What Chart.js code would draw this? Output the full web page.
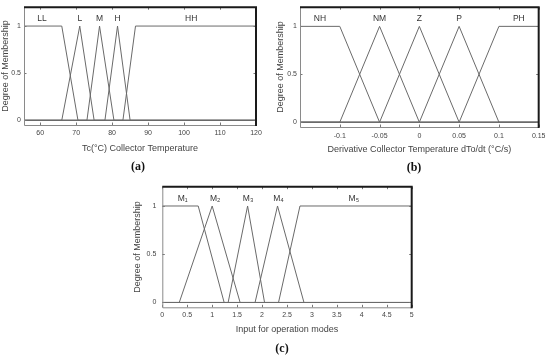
<!DOCTYPE html>
<html><head><meta charset="utf-8">
<script src="https://cdn.jsdelivr.net/npm/chart.js@4.4.0/dist/chart.umd.min.js"></script>
<style>
html,body{margin:0;padding:0;background:#fff}
body{width:550px;height:356px;overflow:hidden;position:relative}
canvas{position:absolute}
.cap{position:absolute;font-family:"Liberation Serif","Times New Roman",serif;font-weight:bold;font-size:12px;color:#111;transform:translate(-50%,-50%);white-space:nowrap}
</style></head><body>
<canvas id="ca" width="270" height="160" style="left:0px;top:0px"></canvas>
<canvas id="cb" width="275" height="160" style="left:275px;top:0px"></canvas>
<canvas id="cc" width="290" height="165" style="left:130px;top:176px"></canvas>
<div class="cap" style="left:138px;top:166px">(a)</div>
<div class="cap" style="left:414px;top:167px">(b)</div>
<div class="cap" style="left:282px;top:348px">(c)</div>
<script>
// ---------- data: panel (a) collector temperature ----------
const tcNames = ['LL','L','M','H','HH'];
const tcLL = [[55.5,1],[66,1],[70.5,0],[120,0]];
const tcL  = [[55.5,0],[66,0],[71,1],[75,0],[120,0]];
const tcM  = [[55.5,0],[73,0],[76.5,1],[80.5,0],[120,0]];
const tcH  = [[55.5,0],[78,0],[81.5,1],[85,0],[120,0]];
const tcHH = [[55.5,0],[83,0],[86.5,1],[120,1]];
const tcLabelX = [60.5,71,76.5,81.5,102];
const tcTicks = [60,70,80,90,100,110,120];

// ---------- data: panel (b) derivative ----------
const dNames = ['NH','NM','Z','P','PH'];
const dNH = [[-0.15,1],[-0.1,1],[-0.05,0],[0.15,0]];
const dNM = [[-0.15,0],[-0.1,0],[-0.05,1],[0,0],[0.15,0]];
const dZ  = [[-0.15,0],[-0.05,0],[0,1],[0.05,0],[0.15,0]];
const dP  = [[-0.15,0],[0,0],[0.05,1],[0.1,0],[0.15,0]];
const dPH = [[-0.15,0],[0.05,0],[0.1,1],[0.15,1]];
const dLabelX = [-0.125,-0.05,0,0.05,0.125];
const dTicks = [-0.1,-0.05,0,0.05,0.1,0.15];

// ---------- data: panel (c) operation modes ----------
const mNames = ['M\u2081','M\u2082','M\u2083','M\u2084','M\u2085'];
const m1 = [[0,1],[0.72,1],[1.24,0],[5,0]];
const m2 = [[0,0],[0.34,0],[1.0,1],[1.56,0],[5,0]];
const m3 = [[0,0],[1.32,0],[1.71,1],[2.05,0],[5,0]];
const m4 = [[0,0],[1.86,0],[2.31,1],[2.84,0],[5,0]];
const m5 = [[0,0],[2.33,0],[2.76,1],[5,1]];
const mLabelX = [0.41,1.06,1.72,2.33,3.84];
const mTicks = [0,0.5,1,1.5,2,2.5,3,3.5,4,4.5,5];

const yTicks = [0,0.5,1];
const yTitle = 'Degree of Membership';
const labelY = 1.08;

// ---------- drawing ----------
const SANS = '"Liberation Sans", Arial, sans-serif';
const LINE = '#6a6a6a';
const TXT = '#444';

const deco = {
  id: 'deco',
  afterDatasetsDraw(chart, args, o) {
    const ctx = chart.ctx, a = chart.chartArea, xs = chart.scales.x, ys = chart.scales.y;
    ctx.save();
    ctx.fillStyle = '#333';
    ctx.font = '8.5px ' + SANS;
    ctx.textAlign = 'center';
    ctx.textBaseline = 'middle';
    o.names.forEach((n, i) => ctx.fillText(n, xs.getPixelForValue(o.labelX[i]), ys.getPixelForValue(labelY)));
    ctx.strokeStyle = '#777';
    ctx.lineWidth = 1;
    ctx.beginPath();
    o.xTicks.forEach(v => {
      const px = Math.round(xs.getPixelForValue(v)) + 0.5;
      ctx.moveTo(px, a.bottom); ctx.lineTo(px, a.bottom - 2.5);
      ctx.moveTo(px, a.top); ctx.lineTo(px, a.top + 2.5);
    });
    yTicks.forEach(v => {
      const py = Math.round(ys.getPixelForValue(v)) + 0.5;
      ctx.moveTo(a.left, py); ctx.lineTo(a.left + 2.5, py);
      ctx.moveTo(a.right, py); ctx.lineTo(a.right - 2.5, py);
    });
    ctx.stroke();
    ctx.strokeStyle = '#8a8a8a';
    ctx.lineWidth = 1;
    ctx.beginPath();
    ctx.moveTo(a.left + 0.5, a.top); ctx.lineTo(a.left + 0.5, a.bottom + 0.5);
    ctx.lineTo(a.right, a.bottom + 0.5);
    ctx.stroke();
    ctx.strokeStyle = '#1a1a1a';
    ctx.lineWidth = 2;
    ctx.beginPath();
    ctx.moveTo(a.left, a.top); ctx.lineTo(a.right, a.top); ctx.lineTo(a.right, a.bottom + 1);
    ctx.stroke();
    ctx.restore();
  }
};

function makeChart(id, sets, names, labelX, xTicks, xMin, xMax, xTitle, fmt, geo) {
  new Chart(document.getElementById(id), {
    type: 'scatter',
    data: {
      datasets: sets.map(s => ({
        data: s.map(p => ({x: p[0], y: p[1]})),
        showLine: true, borderColor: LINE, borderWidth: 1, pointRadius: 0,
        fill: false, tension: 0
      }))
    },
    options: {
      responsive: false, animation: false, devicePixelRatio: 1,
      layout: {padding: {left: 0, top: geo.top, right: geo.right, bottom: 0}},
      plugins: {legend: {display: false}, tooltip: {enabled: false},
        deco: {names: names, labelX: labelX, xTicks: xTicks}},
      scales: {
        x: {
          type: 'linear', min: xMin, max: xMax,
          afterBuildTicks: s => { s.ticks = xTicks.map(v => ({value: v})); },
          afterFit: s => { s.height = geo.xh; },
          grid: {display: false, drawTicks: false},
          border: {display: false},
          ticks: {callback: fmt, color: TXT, font: {family: SANS, size: 7}, padding: geo.xtp, maxRotation: 0, autoSkip: false},
          title: {display: true, text: xTitle, color: TXT, font: {family: SANS, size: 9}, padding: {top: 0, bottom: geo.xtb}}
        },
        y: {
          type: 'linear', min: -0.05, max: 1.2,
          afterBuildTicks: s => { s.ticks = yTicks.map(v => ({value: v})); },
          afterFit: s => { s.width = geo.yw; },
          grid: {display: false, drawTicks: false},
          border: {display: false},
          ticks: {callback: v => String(v), color: TXT, font: {family: SANS, size: 7}, padding: geo.ytp},
          title: {display: true, text: yTitle, color: TXT, font: {family: SANS, size: 9}, padding: {top: geo.ytt, bottom: 0}}
        }
      }
    },
    plugins: [deco]
  });
}

makeChart('ca', [tcLL, tcL, tcM, tcH, tcHH], tcNames, tcLabelX, tcTicks, 55.5, 120,
  'Tc(\u00B0C) Collector Temperature', v => String(v),
  {top: 6, right: 14, xh: 35, yw: 24, xtp: 4, xtb: 5.6, ytp: 3, ytt: 0.5});

makeChart('cb', [dNH, dNM, dZ, dP, dPH], dNames, dLabelX, dTicks, -0.15, 0.15,
  'Derivative Collector Temperature dTo/dt (\u00B0C/s)', v => String(Math.round(v * 100) / 100),
  {top: 6, right: 10, xh: 33, yw: 25, xtp: 4.5, xtb: 4.6, ytp: 3, ytt: 0.5});

makeChart('cc', [m1, m2, m3, m4, m5], mNames, mLabelX, mTicks, 0, 5,
  'Input for operation modes', v => String(v),
  {top: 10.7, right: 8.3, xh: 33.7, yw: 32.3, xtp: 4, xtb: 5.6, ytp: 6, ytt: 2});
</script>
</body></html>
